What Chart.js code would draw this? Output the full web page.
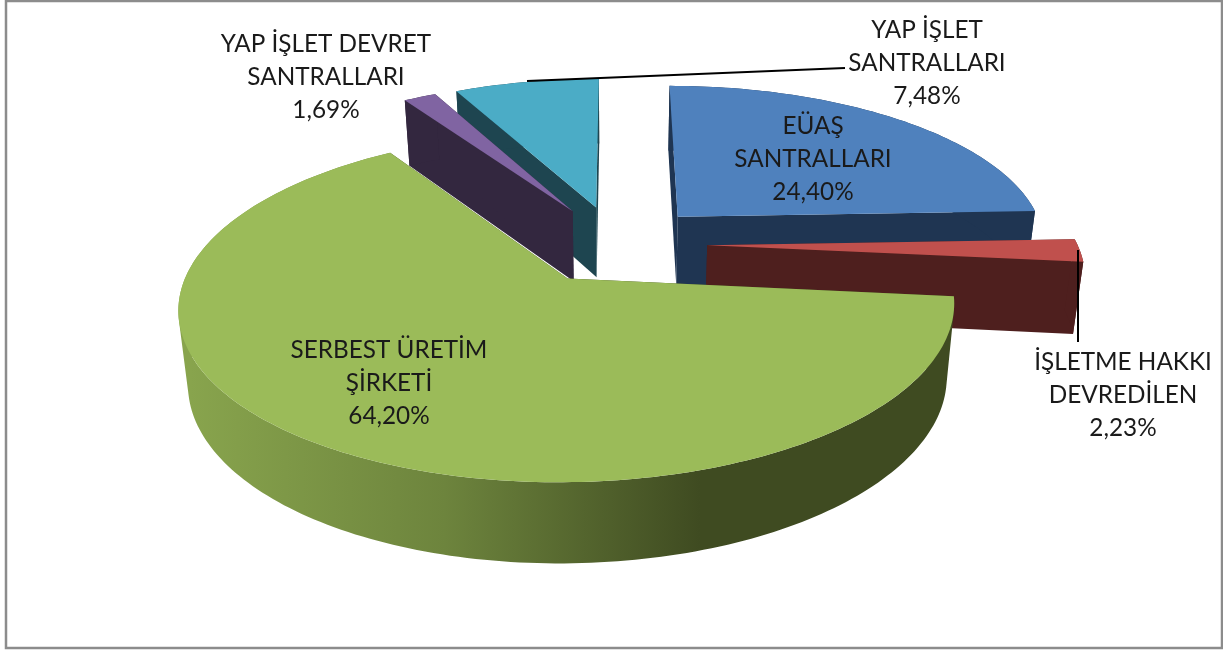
<!DOCTYPE html>
<html>
<head>
<meta charset="utf-8">
<title>Santral paylari</title>
<script src="https://cdn.jsdelivr.net/npm/chart.js@4"></script>
<style>
  html, body { margin: 0; padding: 0; background: #fff; }
  canvas { display: block; }
</style>
</head>
<body>
<canvas id="pieChart" width="1223" height="650"></canvas>
<script>
const categories = [
  ['EÜAŞ', 'SANTRALLARI'],
  ['İŞLETME HAKKI', 'DEVREDİLEN'],
  ['SERBEST ÜRETİM', 'ŞİRKETİ'],
  ['YAP İŞLET DEVRET', 'SANTRALLARI'],
  ['YAP İŞLET', 'SANTRALLARI']
];
const shares = [24.40, 2.23, 64.20, 1.69, 7.48];
const topColors = ['#4F81BD', '#C0504D', '#9BBB59', '#8064A2', '#4BACC6'];
const wallColors = ['#1F3552', '#4E1F1E', '#3F4B21', '#33273F', '#1E4550'];

// where each label block is centred, first line y
const labelSpots = [[813, 126.5], [1123, 362.5], [389, 350.5], [326, 44.5], [927, 30.5]];

// the pie is flat in its own plane (radius 1), this puts it on screen with perspective
const view = { cx: 616.5, cy: 244, w: 370, k: 159.4, p: 0.158 };
const explode = 0.245;
const drawOrder = [4, 3, 0, 1, 2];

function project(X, Y) {
  const z = 1 / (1 + view.p * Y);
  return { x: view.cx + view.w * X * z, y: view.cy - view.k * Y * z, z: z };
}

// same point on the underside of the pie
function drop(pt) {
  return {
    x: view.cx + (pt.x - view.cx) * 0.978,
    y: pt.y + 29.5 + 41.8 * pt.z
  };
}

function slicePoints(arc) {
  // chart.js angles start at 3 o'clock, here they are measured from the top
  const a0 = arc.startAngle + Math.PI / 2;
  const a1 = arc.endAngle + Math.PI / 2;
  const mid = (a0 + a1) / 2;
  const ox = explode * Math.sin(mid);
  const oy = explode * Math.cos(mid);
  const rim = [];
  const steps = Math.max(4, Math.ceil((a1 - a0) / 0.02));
  for (let i = 0; i <= steps; i++) {
    const a = a0 + (a1 - a0) * i / steps;
    rim.push(project(ox + Math.sin(a), oy + Math.cos(a)));
  }
  return { apex: project(ox, oy), rim: rim };
}

function tracePath(ctx, pts) {
  pts.forEach((p, i) => (i ? ctx.lineTo(p.x, p.y) : ctx.moveTo(p.x, p.y)));
  ctx.closePath();
}

function fillPath(ctx, pts, fill) {
  ctx.beginPath();
  tracePath(ctx, pts);
  ctx.fillStyle = fill;
  ctx.fill();
}

// rim as one path of small quads, all wound the same way so there are no seams
// (the top and bottom curves cross at the sides)
function fillRim(ctx, rim, fill) {
  ctx.beginPath();
  for (let n = 0; n < rim.length - 1; n++) {
    const quad = [rim[n], rim[n + 1], drop(rim[n + 1]), drop(rim[n])];
    let area = 0;
    quad.forEach((p, i) => {
      const q = quad[(i + 1) % 4];
      area += p.x * q.y - q.x * p.y;
    });
    tracePath(ctx, area < 0 ? quad.reverse() : quad);
  }
  ctx.fillStyle = fill;
  ctx.fill();
}

const pie3d = {
  id: 'pie3d',
  beforeDatasetDraw(chart) {
    const ctx = chart.ctx;
    const arcs = chart.getDatasetMeta(0).data;
    ctx.save();
    drawOrder.forEach(i => {
      const s = slicePoints(arcs[i]);
      const first = s.rim[0];
      const last = s.rim[s.rim.length - 1];
      let wall = wallColors[i];

      fillPath(ctx, [s.apex, first, drop(first), drop(s.apex)], wall);
      fillPath(ctx, [s.apex, last, drop(last), drop(s.apex)], wall);

      if (i === 2) {
        // the big slice has the shaded rim
        wall = ctx.createLinearGradient(190, 0, 700, 0);
        wall.addColorStop(0, '#88A44D');
        wall.addColorStop(0.5, '#6D843D');
        wall.addColorStop(1, wallColors[2]);
      }
      fillRim(ctx, s.rim, wall);
      fillPath(ctx, [s.apex].concat(s.rim), topColors[i]);
    });
    ctx.restore();
    return false;
  },
  afterDraw(chart) {
    const ctx = chart.ctx;
    ctx.save();

    // leader lines
    ctx.strokeStyle = '#000';
    ctx.lineWidth = 2;
    ctx.beginPath();
    ctx.moveTo(527, 81);
    ctx.lineTo(845, 68);
    ctx.moveTo(1078, 250);
    ctx.lineTo(1078, 342);
    ctx.stroke();

    // labels
    ctx.fillStyle = '#1a1a1a';
    ctx.font = '24.3px Lato';
    ctx.textAlign = 'center';
    ctx.textBaseline = 'middle';
    categories.forEach((lines, i) => {
      const spot = labelSpots[i];
      const pct = shares[i].toFixed(2).replace('.', ',') + '%';
      lines.concat(pct).forEach((text, n) => {
        ctx.fillText(text, spot[0], spot[1] + n * 32.8);
      });
    });

    // frame
    ctx.strokeStyle = '#8C8C8C';
    ctx.lineWidth = 2.5;
    ctx.strokeRect(6, 1, 1216, 647);
    ctx.restore();
  }
};

new Chart(document.getElementById('pieChart').getContext('2d'), {
  type: 'pie',
  data: {
    labels: categories.map(c => c.join(' ')),
    datasets: [{
      data: shares,
      backgroundColor: topColors,
      borderWidth: 0
    }]
  },
  options: {
    responsive: false,
    animation: false,
    rotation: 0,
    plugins: {
      legend: { display: false },
      tooltip: { enabled: false }
    }
  },
  plugins: [pie3d]
});
</script>
</body>
</html>
